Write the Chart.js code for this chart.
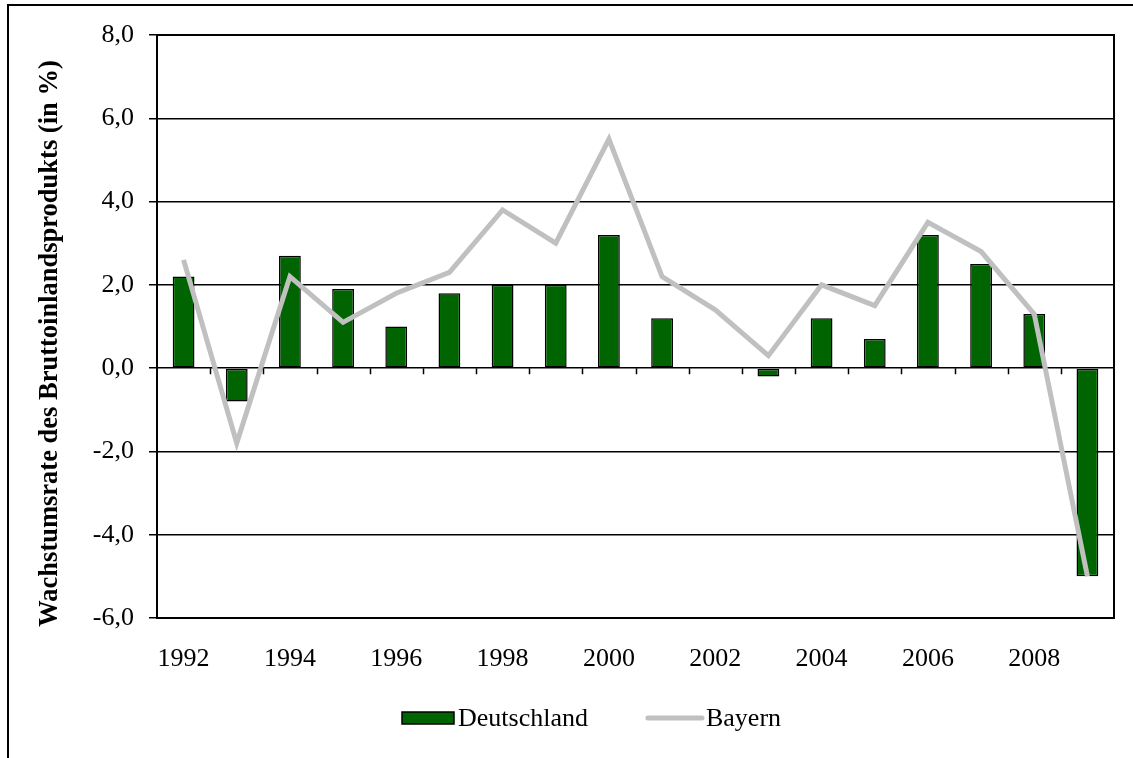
<!DOCTYPE html>
<html>
<head>
<meta charset="utf-8">
<script src="https://cdn.jsdelivr.net/npm/chart.js@4.4.1/dist/chart.umd.min.js"></script>
<style>
  html, body { margin: 0; padding: 0; background: #fff; }
  #wrap { position: relative; width: 1133px; height: 758px; }
</style>
</head>
<body>
<div id="wrap"><canvas id="growthChart" width="1133" height="758"></canvas></div>
<script>
// Wachstumsrate des BIP, Deutschland vs. Bayern
const years = ['1992', '1993', '1994', '1995', '1996', '1997', '1998', '1999', '2000',
               '2001', '2002', '2003', '2004', '2005', '2006', '2007', '2008', '2009'];
const deutschland = [2.2, -0.8, 2.7, 1.9, 1.0, 1.8, 2.0, 2.0, 3.2,
                     1.2, 0.0, -0.2, 1.2, 0.7, 3.2, 2.5, 1.3, -5.0];
const bayern = [2.6, -1.8, 2.2, 1.1, 1.8, 2.3, 3.8, 3.0, 5.5,
                2.2, 1.4, 0.3, 2.0, 1.5, 3.5, 2.8, 1.3, -5.0];
const yTicks = [-6, -4, -2, 0, 2, 4, 6, 8];
const yTitle = 'Wachstumsrate des Bruttoinlandsprodukts (in %)';

const FONT = '"Liberation Serif", "Times New Roman", serif';
const GREEN = '#006400';
const GREY = '#c0c0c0';

// outer frame, plot box, zero-line ticks, axis title and the legend
const framePlugin = {
    id: 'frame',
    beforeDraw(chart) {
        const ctx = chart.ctx;
        ctx.save();
        ctx.fillStyle = '#fff';
        ctx.fillRect(0, 0, chart.width, chart.height);
        ctx.strokeStyle = '#000';
        ctx.lineWidth = 2;
        ctx.beginPath();
        ctx.moveTo(8, chart.height);
        ctx.lineTo(8, 5);
        ctx.lineTo(chart.width, 5);
        ctx.stroke();
        ctx.restore();
    },
    afterDatasetsDraw(chart) {
        const { ctx, chartArea, scales } = chart;
        ctx.save();
        ctx.strokeStyle = '#000';
        ctx.lineWidth = 2;
        ctx.strokeRect(chartArea.left, chartArea.top,
                       chartArea.right - chartArea.left, chartArea.bottom - chartArea.top);
        const y0 = scales.y.getPixelForValue(0);
        ctx.lineWidth = 1.5;
        ctx.beginPath();
        for (let i = 1; i < years.length; i++) {
            const x = Math.round(scales.x.getPixelForValue(i - 0.5)) + 0.5;
            ctx.moveTo(x, y0);
            ctx.lineTo(x, y0 + 6);
        }
        ctx.stroke();
        ctx.restore();
    },
    afterDraw(chart) {
        const ctx = chart.ctx;
        const ds = chart.data.datasets;
        const area = chart.chartArea;

        // y axis title, sits a bit below the plot centre like the original
        ctx.save();
        ctx.translate(50, (area.top + area.bottom) / 2 + 17);
        ctx.rotate(-Math.PI / 2);
        ctx.font = 'bold 26.5px ' + FONT;
        ctx.fillStyle = '#000';
        ctx.textAlign = 'center';
        ctx.textBaseline = 'middle';
        ctx.fillText(yTitle, 0, 0);
        ctx.restore();

        // legend
        const y = area.bottom + 100;
        let x = 402;
        ctx.save();
        ctx.font = '26px ' + FONT;
        ctx.textBaseline = 'middle';
        ctx.fillStyle = ds[0].backgroundColor;
        ctx.fillRect(x, y - 6, 52, 12);
        ctx.strokeStyle = '#000';
        ctx.lineWidth = 1.5;
        ctx.strokeRect(x, y - 6, 52, 12);
        ctx.fillStyle = '#000';
        ctx.fillText(ds[0].label, x + 56, y + 1);
        x += 56 + ctx.measureText(ds[0].label).width + 60;
        ctx.strokeStyle = ds[1].borderColor;
        ctx.lineWidth = 5;
        ctx.lineCap = 'round';
        ctx.beginPath();
        ctx.moveTo(x, y);
        ctx.lineTo(x + 54, y);
        ctx.stroke();
        ctx.fillText(ds[1].label, x + 58, y + 1);
        ctx.restore();
    }
};

new Chart(document.getElementById('growthChart'), {
    data: {
        labels: years,
        datasets: [
            {
                type: 'bar',
                label: 'Deutschland',
                data: deutschland,
                backgroundColor: GREEN,
                borderColor: '#000',
                borderWidth: 1.5,
                borderSkipped: false,
                barPercentage: 0.82,
                categoryPercentage: 0.5,
                order: 2
            },
            {
                type: 'line',
                label: 'Bayern',
                data: bayern,
                borderColor: GREY,
                backgroundColor: GREY,
                borderWidth: 5,
                pointRadius: 0,
                tension: 0,
                fill: false,
                order: 1
            }
        ]
    },
    options: {
        responsive: false,
        animation: false,
        layout: { padding: { left: 12, top: 35, right: 19, bottom: 70 } },
        plugins: {
            tooltip: { enabled: false },
            legend: { display: false }
        },
        scales: {
            x: {
                offset: true,
                grid: { display: false },
                border: { display: false },
                ticks: {
                    autoSkip: false,
                    maxRotation: 0,
                    color: '#000',
                    font: { family: FONT, size: 26 },
                    padding: 18,
                    callback: (v, i) => (i % 2 === 0 ? years[i] : '')
                },
                afterFit: s => { s.height = 70; }
            },
            y: {
                min: -6,
                max: 8,
                afterBuildTicks: s => { s.ticks = yTicks.map(v => ({ value: v })); },
                grid: { color: '#000', lineWidth: 1.5, tickLength: 8 },
                border: { display: true, color: '#000', width: 2 },
                ticks: {
                    color: '#000',
                    font: { family: FONT, size: 26 },
                    padding: 15,
                    callback: v => v.toFixed(1).replace('.', ',')
                },
                afterFit: s => { s.width = 145; }
            }
        }
    },
    plugins: [framePlugin]
});
</script>
</body>
</html>
